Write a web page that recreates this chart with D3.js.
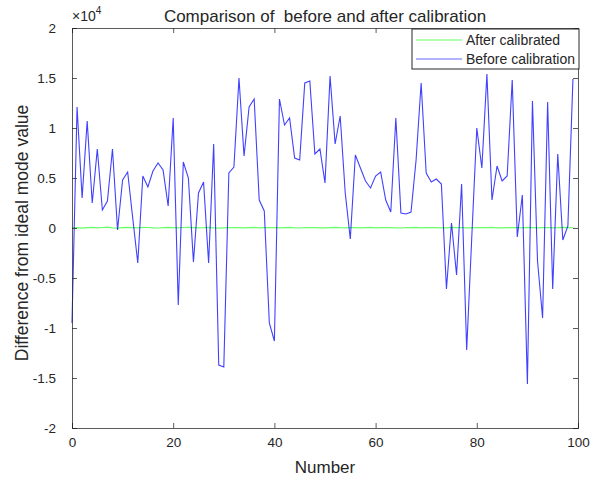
<!DOCTYPE html>
<html>
<head>
<meta charset="utf-8">
<script src="https://cdn.jsdelivr.net/npm/d3@7"></script>
<style>
  body { margin: 0; background: #fff; }
  text { font-family: "Liberation Sans", Arial, sans-serif; fill: #262626; }
</style>
</head>
<body>
<div id="chart"></div>
<script>
const before = [
  -9500, 12100, 3000, 10700, 2500, 7900, 1800, 2700, 7900, -200,
  4800, 5600, 1000, -3500, 5200, 4100, 5700, 6500, 5800, 2200,
  11000, -7700, 6600, 5000, -3400, 3500, 4600, -3500, 8400, -13700,
  -13900, 5500, 6100, 15000, 7200, 12100, 12900, 2800, 1700, -9500,
  -11300, 12900, 10300, 11000, 7000, 6800, 14500, 14700, 7400, 7900,
  4500, 15200, 8400, 11200, 3500, -1100, 7300, 6000, 4700, 4000,
  5200, 5600, 2800, 1600, 11000, 1500, 1400, 1600, 6800, 14500,
  5500, 4600, 4900, 4400, -6100, 500, -4700, 4400, -12200, -1000,
  10000, 6000, 15400, 2800, 6200, 4700, 5200, 14800, -900, 3300,
  -15600, 12700, -3300, -9000, 12600, -6100, 7400, -1200, 200, 14900
];
const after = [
  20, 40, -10, 30, 60, 10, 50, 80, 20, -20,
  30, 60, 40, 10, 70, 50, 20, 0, 40, 60,
  30, 10, 50, 70, 40, 20, 30, 60, 10, -10,
  20, 40, 50, 30, 10, 40, 60, 20, 30, 50,
  40, 10, 30, 60, 20, 0, 30, 50, 40, 20,
  10, 40, 60, 30, 20, 50, 40, 10, 30, 60,
  20, 40, 50, 30, 10, 0, 30, 40, 60, 20,
  30, 50, 40, 10, 20, 60, 30, 40, 20, 10,
  50, 30, 40, 60, 20, 10, 30, 50, 40, 20,
  60, 30, 10, 40, 50, 20, 30, 60, 40, 30
];
const xTicks = [0, 20, 40, 60, 80, 100];
const yTicks = [-2, -1.5, -1, -0.5, 0, 0.5, 1, 1.5, 2];
const legendLabels = ["After calibrated", "Before calibration"];

const width = 604, height = 479;
const margin = {left: 72, right: 26, top: 28, bottom: 51};
const iw = width - margin.left - margin.right;
const ih = height - margin.top - margin.bottom;

const svg = d3.select("#chart").append("svg")
  .attr("width", width).attr("height", height);

const x = d3.scaleLinear().domain([0, 100]).range([0, iw]);
const y = d3.scaleLinear().domain([-2e4, 2e4]).range([ih, 0]);

const g = svg.append("g").attr("transform", `translate(${margin.left},${margin.top})`);

const line = d3.line().x((d, i) => x(i)).y(d => y(d));

g.append("path").datum(after)
  .attr("fill", "none").attr("stroke", "#00ff00").attr("stroke-opacity", 0.6)
  .attr("stroke-width", 1.2).attr("d", line);

g.append("path").datum(before)
  .attr("fill", "none").attr("stroke", "#0000ff").attr("stroke-opacity", 0.75)
  .attr("stroke-width", 1.1).attr("d", line);

const axColor = "#262626";
const tickLen = 5;

// bottom axis
const xb = g.append("g").attr("transform", `translate(0,${ih})`)
  .call(d3.axisBottom(x).tickValues(xTicks).tickSize(-tickLen).tickPadding(9).tickFormat(d3.format("d")));
// top axis
const xt = g.append("g")
  .call(d3.axisTop(x).tickValues(xTicks).tickSize(-tickLen).tickFormat(""));
// left axis
const yl = g.append("g")
  .call(d3.axisLeft(y).tickValues(yTicks.map(v => v * 1e4)).tickSize(-tickLen).tickPadding(16)
    .tickFormat(v => String(v / 1e4)));
// right axis
const yr = g.append("g").attr("transform", `translate(${iw},0)`)
  .call(d3.axisRight(y).tickValues(yTicks.map(v => v * 1e4)).tickSize(-tickLen).tickFormat(""));

[xb, xt, yl, yr].forEach(a => {
  a.selectAll("path").attr("stroke", axColor).attr("stroke-opacity", 0.75);
  a.selectAll("line").attr("stroke", axColor).attr("stroke-opacity", 0.75);
  a.selectAll("text").style("font-family", "'Liberation Sans', Arial, sans-serif")
    .style("font-size", "13.5px").attr("fill", axColor);
});

// exponent label
const ex = svg.append("text").attr("x", margin.left).attr("y", margin.top - 7)
  .style("font-size", "14px");
ex.append("tspan").text("\u00d710");
ex.append("tspan").attr("dy", -7).style("font-size", "10px").text("4");

// title
svg.append("text").attr("x", margin.left + iw / 2).attr("y", 22)
  .attr("text-anchor", "middle").style("font-size", "17px")
  .attr("xml:space", "preserve").style("white-space", "pre")
  .text("Comparison of  before and after calibration");

// x label
svg.append("text").attr("x", margin.left + iw / 2).attr("y", 473)
  .attr("text-anchor", "middle").style("font-size", "17px").text("Number");

// y label
svg.append("text").attr("transform", `translate(28,${margin.top + ih / 2 + 5}) rotate(-90)`)
  .attr("text-anchor", "middle").style("font-size", "17.5px")
  .text("Difference from ideal mode value");

// legend
const colors = ["#00ff00", "#0000ff"];
const lg = svg.append("g").attr("transform", `translate(${412},${margin.top + 1})`);
lg.append("rect").attr("width", 167).attr("height", 40)
  .attr("fill", "#fff").attr("stroke", axColor).attr("stroke-width", 1);
legendLabels.forEach((t, i) => {
  const yy = 11 + i * 19;
  lg.append("line").attr("x1", 4).attr("x2", 50).attr("y1", yy).attr("y2", yy)
    .attr("stroke", colors[i]).attr("stroke-opacity", 0.6).attr("stroke-width", 1.2);
  lg.append("text").attr("x", 54).attr("y", yy + 5).style("font-size", "14px").text(t);
});
</script>
</body>
</html>
